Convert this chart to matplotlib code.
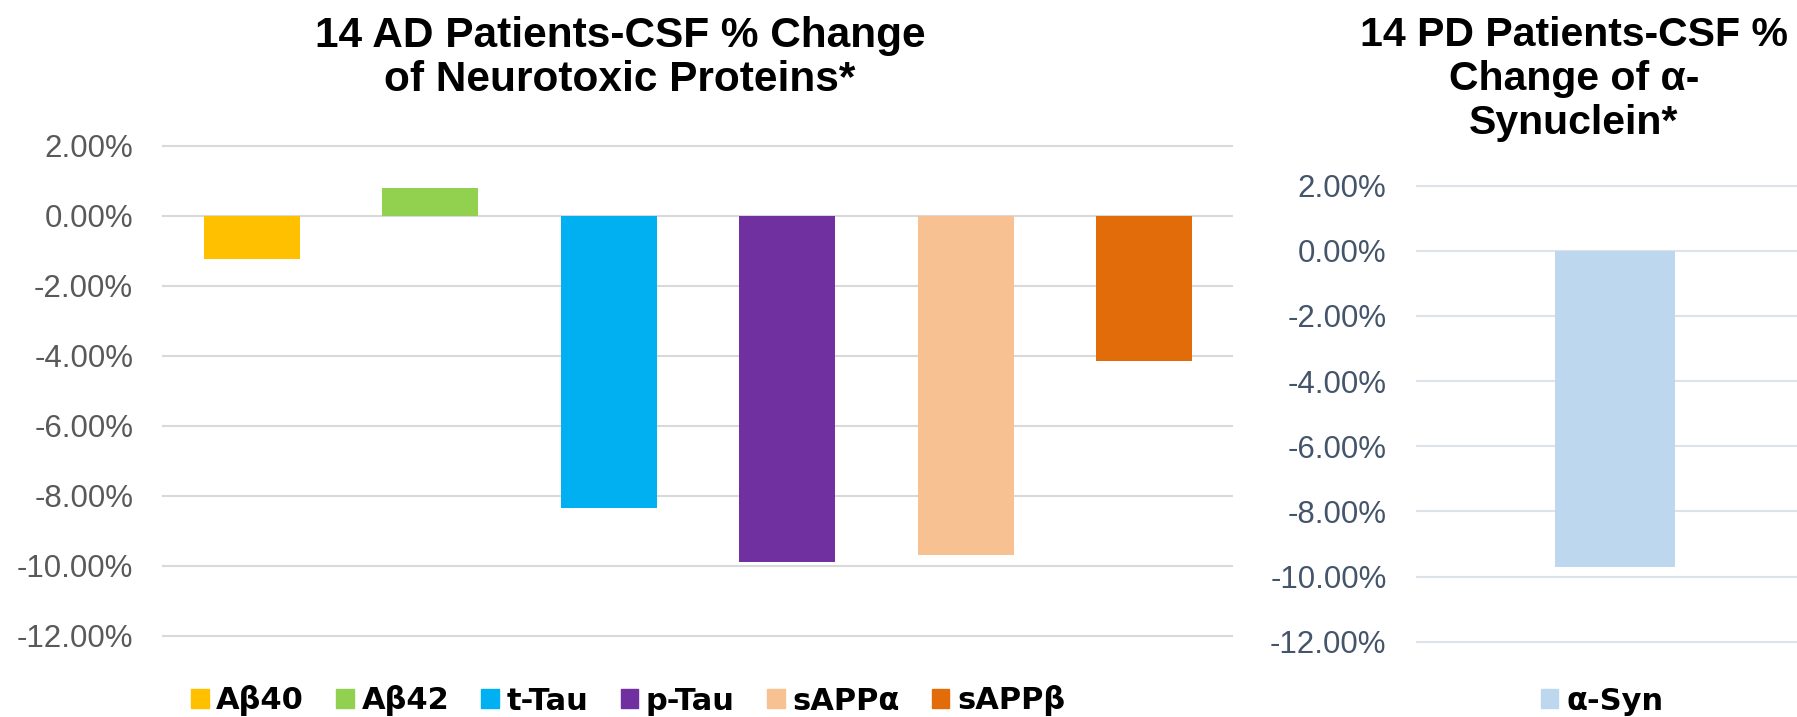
import matplotlib
matplotlib.use('Agg')
import matplotlib.pyplot as plt
from matplotlib.patches import Patch
from matplotlib.ticker import FuncFormatter, FixedLocator

# ---------------- data ----------------
ad_categories = ['Aβ40', 'Aβ42', 't-Tau', 'p-Tau', 'sAPPα', 'sAPPβ']
ad_values = [-1.25, 0.80, -8.34, -9.89, -9.69, -4.14]
ad_colors = ['#FFC000', '#92D050', '#00B0F0', '#7030A0', '#F8C191', '#E36C0A']

pd_categories = ['α-Syn']
pd_values = [-9.72]
pd_colors = ['#BDD7EE']

y_ticks = [2, 0, -2, -4, -6, -8, -10, -12]

ad_title = ['14 AD Patients-CSF % Change', 'of Neurotoxic Proteins*']
pd_title = ['14 PD Patients-CSF %', 'Change of α-', 'Synuclein*']

# ---------------- layout ----------------
W, H = 1797, 717
fig = plt.figure(figsize=(W / 100, H / 100), dpi=100)


def px_axes(x0, x1, ytop, ybot):
    return fig.add_axes([x0 / W, 1 - ybot / H, (x1 - x0) / W, (ybot - ytop) / H])


PAD = 0.1  # small y margin so edge gridlines are not clipped
# left chart: 1% = 35 px
ax1 = px_axes(162.3, 1233.3, 145.7 - PAD * 35, 635.7 + PAD * 35)
# right chart: 1% = 32.57 px
ax2 = px_axes(1415.7, 1814.6, 185.7 - PAD * 32.57, 641.7 + PAD * 32.57)

fmt = FuncFormatter(lambda v, p: f'{v:.2f}%'.replace('\u2212', '-'))


def style(ax, grid_color, label_color):
    ax.set_ylim(-12 - PAD, 2 + PAD)
    ax.yaxis.set_major_locator(FixedLocator(y_ticks))
    ax.yaxis.set_major_formatter(fmt)
    ax.yaxis.grid(True, color=grid_color, linewidth=1.5)
    ax.set_axisbelow(True)
    for s in ax.spines.values():
        s.set_visible(False)
    ax.set_xticks([])
    ax.tick_params(axis='y', length=0, pad=21, labelsize=22.5,
                   labelcolor=label_color)
    for lab in ax.get_yticklabels():
        lab.set_family('Liberation Sans')


# left chart bars
x1 = list(range(len(ad_categories)))
ax1.bar(x1, ad_values, width=0.538, color=ad_colors, zorder=3)
ax1.set_xlim(-0.5, len(ad_categories) - 0.5)
style(ax1, '#D9D9D9', '#595959')

# right chart bars
x2 = list(range(len(pd_categories)))
ax2.bar(x2, pd_values, width=0.30, color=pd_colors, zorder=3)
ax2.set_xlim(-0.5, len(pd_categories) - 0.5)
style(ax2, '#DCE3EB', '#44546A')

# titles
title_kw = dict(ha='center', va='center', fontsize=30.5, fontweight='bold',
                family='Liberation Sans', color='black')
for i, line in enumerate(ad_title):
    fig.text(620 / W, 1 - (36 + 44 * i) / H, line, **title_kw)
for i, line in enumerate(pd_title):
    fig.text(1574 / W, 1 - (35 + 44 * i) / H, line,
             **dict(title_kw, fontsize=29.5))

# legends
leg_kw = dict(loc='center', frameon=False,
              prop=dict(family='DejaVu Sans', weight='bold', size=22),
              handlelength=0.58, handleheight=0.58, handletextpad=0.25,
              columnspacing=1.05, borderpad=0, borderaxespad=0)
h1 = [Patch(color=c) for c in ad_colors]
fig.legend(h1, ad_categories, ncol=len(ad_categories),
           bbox_to_anchor=(628 / W, 1 - 701 / H), **leg_kw)
h2 = [Patch(color=c) for c in pd_colors]
fig.legend(h2, pd_categories, ncol=1,
           bbox_to_anchor=(1602 / W, 1 - 701 / H), **leg_kw)

fig.savefig('out.png', dpi=100)
